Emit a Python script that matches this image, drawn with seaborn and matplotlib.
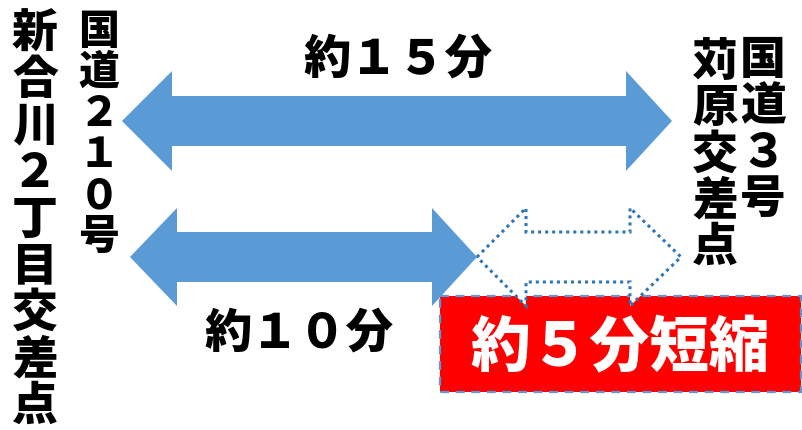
import matplotlib
matplotlib.use("Agg")
import matplotlib.pyplot as plt
from matplotlib.patches import Polygon, Rectangle
import seaborn as sns

# route labels and travel times
left_labels = ["国道２１０号", "新合川２丁目交差点"]
right_labels = ["国道３号", "苅原交差点"]
time_labels = ["約１５分", "約１０分", "約５分短縮"]
minutes = [15, 10, 5]

sns.set_theme(style="white")
plt.rcParams['font.family'] = ['Noto Sans CJK JP', 'DejaVu Sans']

W, H = 803, 431
fig = plt.figure(figsize=(W / 100, H / 100), dpi=100)
ax = fig.add_axes([0, 0, 1, 1])
ax.set_xlim(0, W)
ax.set_ylim(H, 0)
ax.axis("off")

blue = "#5B9BD5"
dot_blue = "#2E75B6"
weight = "black"


def double_arrow(x0, x1, y, head_l0, head_l1, head_h, shaft_h):
    return [
        (x0, y), (x0 + head_l0, y - head_h), (x0 + head_l0, y - shaft_h),
        (x1 - head_l1, y - shaft_h), (x1 - head_l1, y - head_h), (x1, y),
        (x1 - head_l1, y + head_h), (x1 - head_l1, y + shaft_h),
        (x0 + head_l0, y + shaft_h), (x0 + head_l0, y + head_h),
    ]


# current route (15 min)
ax.add_patch(Polygon(double_arrow(122, 672, 122, 50, 46, 50, 25),
                     closed=True, facecolor=blue, edgecolor="none", zorder=3))
# new route (10 min)
ax.add_patch(Polygon(double_arrow(130, 477, 258, 47, 45, 49, 25),
                     closed=True, facecolor=blue, edgecolor="none", zorder=3))

# red box with saving
ax.add_patch(Rectangle((440, 297), 361, 96, facecolor="#FF0000",
                       edgecolor=blue, lw=1.6, ls=(0, (4, 3)), zorder=2))

# saved part (5 min), dotted outline
ax.add_patch(Polygon(double_arrow(477, 681, 258, 49, 51, 49, 25),
                     closed=True, facecolor="white", edgecolor=dot_blue,
                     lw=2.2, ls=(0, (1, 1.3)), zorder=4))

ax.text(398, 59, time_labels[0], fontsize=34, fontweight=weight,
        ha="center", va="center", color="black", zorder=5)
ax.text(299, 333, time_labels[1], fontsize=34, fontweight=weight,
        ha="center", va="center", color="black", zorder=5)
ax.text(620, 348, time_labels[2], fontsize=43, fontweight=weight,
        ha="center", va="center", color="white", zorder=5)


def vertical(label, x, top, pitch, size=33):
    for i, ch in enumerate(label):
        ax.text(x, top + i * pitch, ch, fontsize=size, fontweight=weight,
                ha="center", va="center", color="black", zorder=5)


vertical(left_labels[0], 99, 32, 41, size=29.5)
vertical(left_labels[1], 35, 34, 46.5)
vertical(right_labels[0], 763, 61, 46)
vertical(right_labels[1], 715, 63, 46)

fig.savefig("out.png", dpi=100)
